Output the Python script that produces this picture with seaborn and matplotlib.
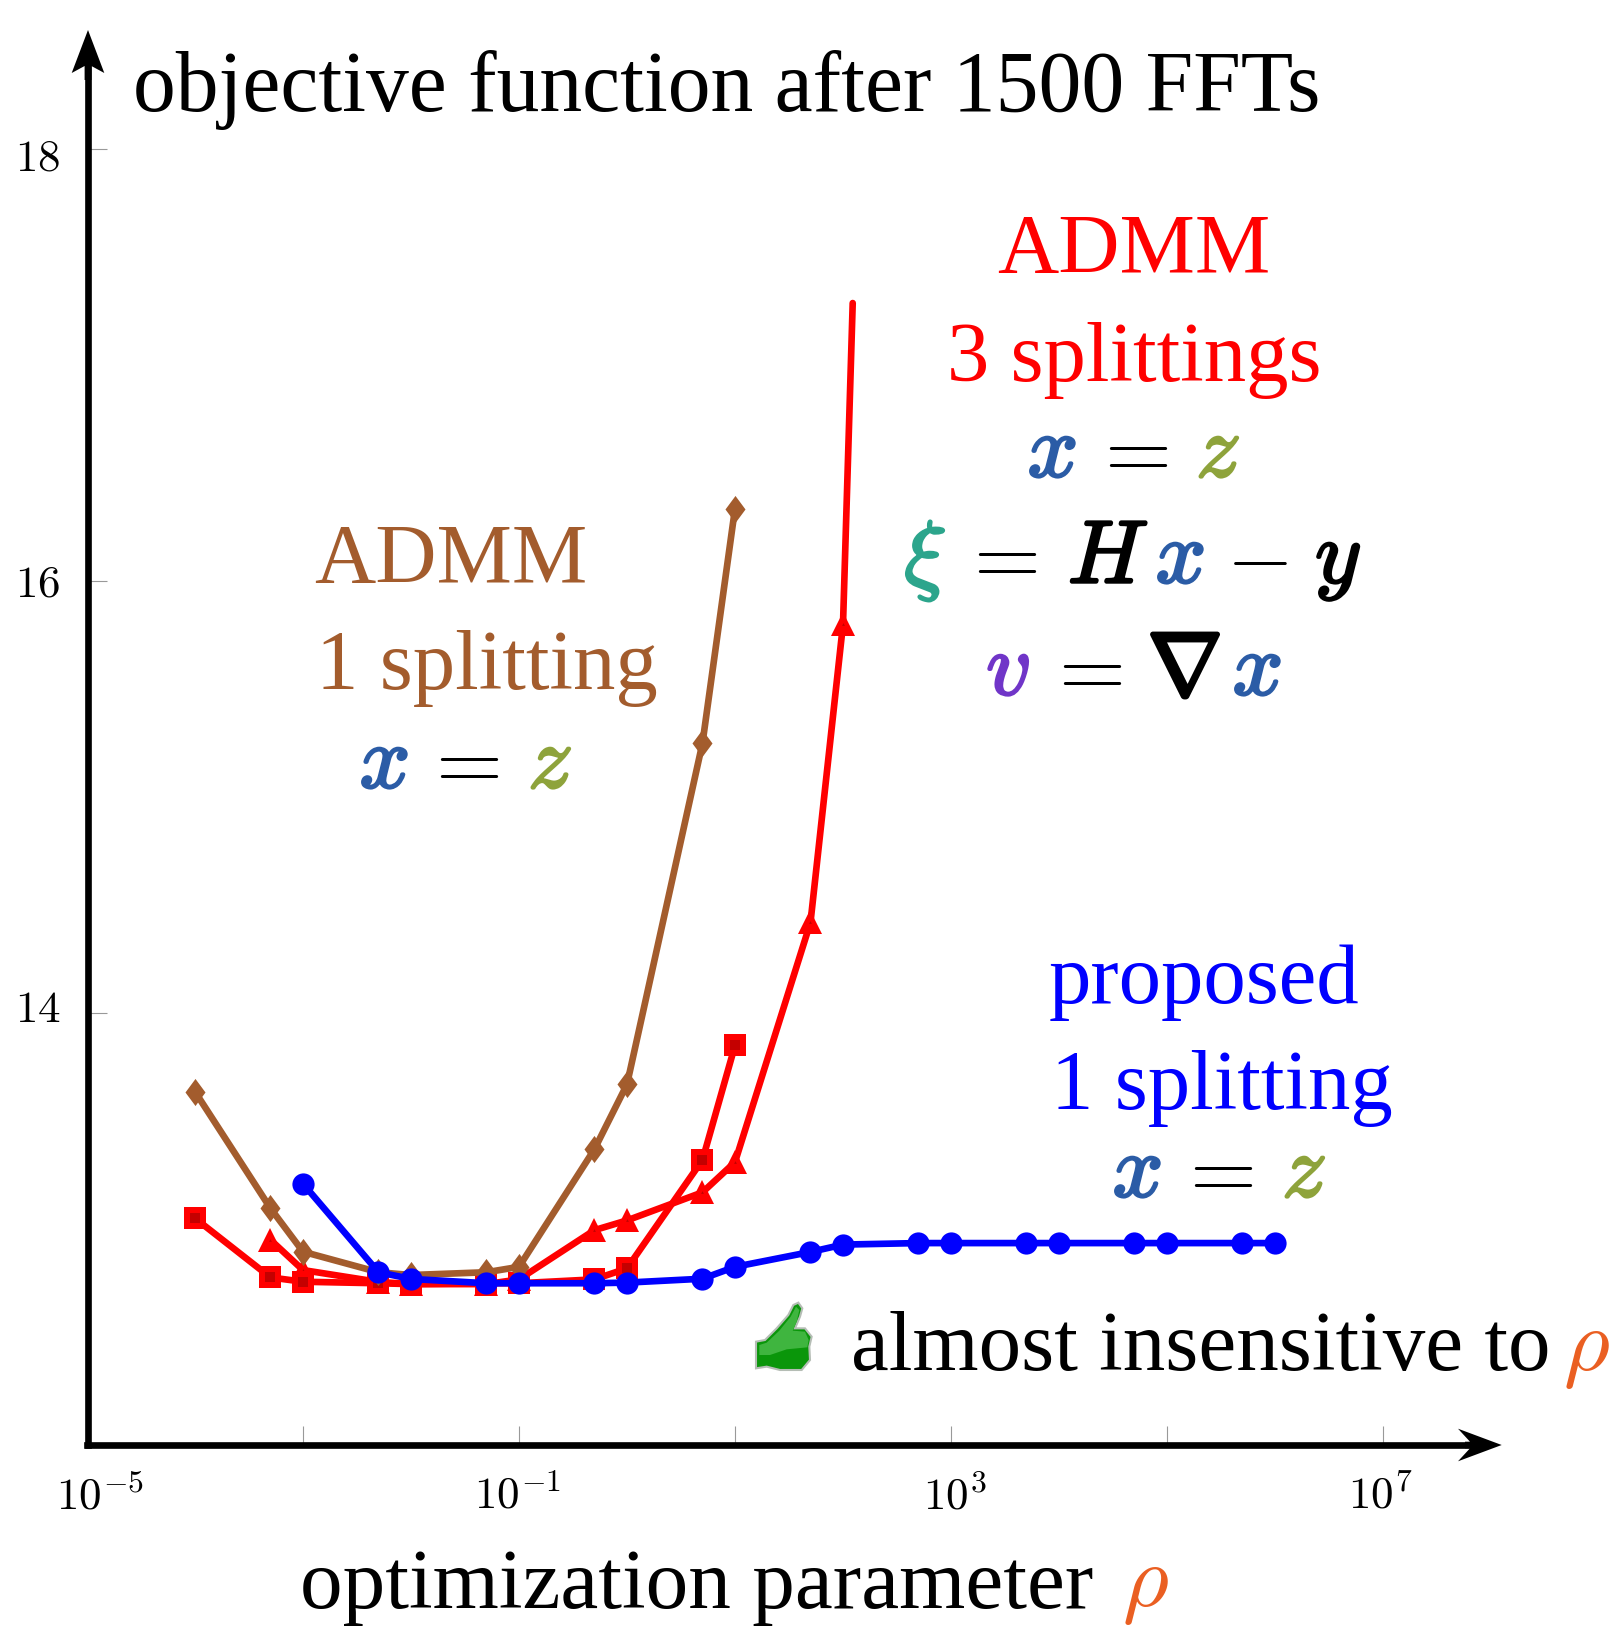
import matplotlib
matplotlib.use('Agg')
import matplotlib.pyplot as plt
import matplotlib.patheffects as pe
from matplotlib.patches import Polygon
from matplotlib.path import Path
from matplotlib.ticker import NullLocator
from matplotlib.transforms import ScaledTranslation
import seaborn as sns
from pandas import DataFrame

sns.set_theme(style='white')
plt.rcParams['font.family'] = ['Liberation Serif', 'DejaVu Sans']
plt.rcParams['mathtext.fontset'] = 'cm'
plt.rcParams['axes.formatter.use_mathtext'] = True

W, H = 1618, 1627

# values
rho_diamond = [1e-4, 5e-4, 1e-3, 5e-3, 1e-2, 5e-2, 1e-1, 5e-1, 1, 5, 10]
obj_diamond = [13.636, 13.096, 12.895, 12.80, 12.787, 12.80, 12.825, 13.37, 13.67, 15.25, 16.336]

rho_square = [1e-4, 5e-4, 1e-3, 5e-3, 1e-2, 5e-2, 1e-1, 5e-1, 1, 5, 10]
obj_square = [13.05, 12.776, 12.756, 12.749, 12.745, 12.749, 12.749, 12.767, 12.818, 13.32, 13.85]

rho_triangle = [5e-4, 1e-3, 5e-3, 1e-2, 5e-2, 1e-1, 5e-1, 1, 5, 10, 50, 100, 123]
obj_triangle = [12.95, 12.81, 12.755, 12.745, 12.745, 12.767, 12.995, 13.04, 13.17, 13.31, 14.42, 15.80, 17.288]

rho_proposed = [1e-3, 5e-3, 1e-2, 5e-2, 1e-1, 5e-1, 1, 5, 10, 50, 100, 500, 1e3, 5e3, 1e4, 5e4, 1e5, 5e5, 1e6]
obj_proposed = [13.21, 12.80, 12.769, 12.749, 12.749, 12.749, 12.752, 12.77, 12.825, 12.894, 12.928,
                12.935, 12.935, 12.935, 12.935, 12.935, 12.935, 12.935, 12.935]

x_ticks = [1e-5, 1e-3, 1e-1, 1e1, 1e3, 1e5, 1e7]
x_labels = ['$10^{-5}$', '', '$10^{-1}$', '', '$10^{3}$', '', '$10^{7}$']
y_ticks = [14, 16, 18]
y_labels = ['$14$', '$16$', '$18$']

RED = '#ff0000'
DARKRED = '#c40000'
BLUE = '#0000ff'
BROWN = '#a35c2d'
XBLUE = '#2b5ca6'
ZGREEN = '#8ea33b'
XITEAL = '#2ca58c'
VPURPLE = '#7035c8'
RHO = '#ea5f22'


def fx(px):
    return px / W


def fy(py):
    return 1 - py / H


fig = plt.figure(figsize=(W / 100, H / 100), dpi=100)
fig.patch.set_facecolor('white')

# axes box in pixels, 108 px per decade, 216 px per objective unit
left, right, top, bottom = 87, 1470, 60, 1445
ax = fig.add_axes([fx(left), fy(bottom), (right - left) / W, (bottom - top) / H])
ax.set_xscale('log')
ax.set_xlim(1e-5, 10 ** (-5 + (right - left) / 108))
ax.set_ylim(12, 18 + (149.3 - top) / 216)
ax.patch.set_alpha(0)

diamond = Path([(0, 1), (0.74, 0), (0, -1), (-0.74, 0), (0, 1)], closed=True)
lw = 4.8

df = DataFrame({'rho': rho_triangle, 'obj': obj_triangle})
sns.lineplot(data=df, x='rho', y='obj', ax=ax, color=RED, lw=lw, marker='^', ms=17, mew=0, solid_joinstyle='miter',
             markevery=list(range(len(rho_triangle) - 1)), errorbar=None, clip_on=False)
sns.lineplot(data=df.iloc[:-1], x='rho', y='obj', ax=ax, color=DARKRED, linestyle='none', marker='^', ms=2, mew=0,
             errorbar=None, clip_on=False)

df = DataFrame({'rho': rho_square, 'obj': obj_square})
sns.lineplot(data=df, x='rho', y='obj', ax=ax, color=RED, lw=lw, marker='s', ms=16, mew=0, errorbar=None, clip_on=False)
sns.lineplot(data=df, x='rho', y='obj', ax=ax, color=DARKRED, linestyle='none', marker='s', ms=7, mew=0,
             errorbar=None, clip_on=False)

df = DataFrame({'rho': rho_diamond, 'obj': obj_diamond})
sns.lineplot(data=df, x='rho', y='obj', ax=ax, color=BROWN, lw=lw, marker=diamond, ms=19.5, mew=0, errorbar=None,
             clip_on=False)

df = DataFrame({'rho': rho_proposed, 'obj': obj_proposed})
sns.lineplot(data=df, x='rho', y='obj', ax=ax, color=BLUE, lw=lw, marker='o', ms=16, mew=0, errorbar=None,
             clip_on=False)

# set_position resets the ticks, so the spines come first
for name in ['top', 'right']:
    ax.spines[name].set_visible(False)
for name in ['left', 'bottom']:
    ax.spines[name].set_linewidth(4.8)
    ax.spines[name].set_color('black')
    ax.spines[name].set_zorder(5)
ax.spines['left'].set_position(('outward', -1))

ax.set_xlabel('')
ax.set_ylabel('')
ax.set_xticks(x_ticks, x_labels)
ax.xaxis.set_minor_locator(NullLocator())
ax.set_yticks(y_ticks, y_labels)
ax.tick_params(axis='both', which='major', direction='in', length=14, width=0.8, color='#999999',
               labelsize=32.5, labelcolor='black', left=True, bottom=True)
ax.tick_params(axis='x', pad=22)
ax.tick_params(axis='y', pad=20)

# the labels sit a little off their ticks in the original
for lab, shift in zip(ax.get_yticklabels(), [7, 0, -6]):
    lab.set_transform(lab.get_transform() + ScaledTranslation(0, shift / 100, fig.dpi_scale_trans))
for lab, shift in zip(ax.get_xticklabels(), [13, 0, -2, 0, 4, 0, -3]):
    lab.set_transform(lab.get_transform() + ScaledTranslation(shift / 100, 0, fig.dpi_scale_trans))


def arrow(pts):
    fig.add_artist(Polygon([(fx(a), fy(b)) for a, b in pts], closed=True, color='black', lw=0,
                           transform=fig.transFigure))


# axis extensions and stealth arrow heads
arrow([(1465, 1441.7), (1470, 1441.7), (1458, 1428.7), (1501.7, 1445), (1458, 1461.3), (1470, 1448.3), (1465, 1448.3)])
arrow([(84.6, 80), (84.6, 66), (71.7, 73), (88, 30), (104.3, 73), (91.4, 66), (91.4, 80)])


def put(s, px, py, size=61, color='black', ha='center', bold=0):
    effects = []
    if bold:
        effects = [pe.Stroke(linewidth=bold, foreground=color), pe.Normal()]
    return fig.text(fx(px), fy(py), s, fontsize=size, color=color, ha=ha, va='baseline', path_effects=effects)


put('objective function after 1500 FFTs', 133, 111, ha='left', size=61.7)
put('optimization parameter', 300, 1608, ha='left', size=61.4)
put(r'$\rho$', 1145, 1606, color=RHO, size=64)
put('almost insensitive to', 851, 1370, ha='left', size=61.2)
put(r'$\rho$', 1586, 1370, color=RHO, size=64)

put('ADMM', 1134, 273, color=RED)
put('3 splittings', 1134, 381, color=RED)
put('ADMM', 451, 583, color=BROWN)
put('1 splitting', 487, 689, color=BROWN)
put('proposed', 1204, 1003, color=BLUE)
put('1 splitting', 1222, 1109, color=BLUE)


def equation(parts, base):
    for sym, px, col, extra in parts:
        put(sym, px, base, color=col, bold=extra, size=64 if extra else 62)


EQ = -9  # mathtext centres the relation signs a bit to the right
equation([('$x$', 1052, XBLUE, 1.9), ('${=}$', 1138 + EQ, 'black', 0), ('$z$', 1218, ZGREEN, 1.9)], 477)
equation([(r'$\xi$', 925, XITEAL, 1.9), ('${=}$', 1007 + EQ, 'black', 0), ('$H$', 1108, 'black', 1.9),
          ('$x$', 1180, XBLUE, 1.9), ('${-}$', 1260 - 3, 'black', 0), ('$y$', 1338, 'black', 1.9)], 583)
equation([('$v$', 1008, VPURPLE, 1.9), ('${=}$', 1092 + EQ, 'black', 0), (r'$\nabla$', 1184, 'black', 3),
          ('$x$', 1257, XBLUE, 1.9)], 695)
equation([('$x$', 384, XBLUE, 1.9), ('${=}$', 469 + EQ, 'black', 0), ('$z$', 550, ZGREEN, 1.9)], 788)
equation([('$x$', 1137, XBLUE, 1.9), ('${=}$', 1223 + EQ, 'black', 0), ('$z$', 1304, ZGREEN, 1.9)], 1197)


# thumbs up icon
def thumb(zpts, fc, ec='none', elw=0):
    fig.add_artist(Polygon([(fx(720 + a / 3), fy(1260 + b / 3)) for a, b in zpts], closed=True, fc=fc, ec=ec, lw=elw,
                           transform=fig.transFigure))


thumb([(108, 245), (135, 240), (170, 205), (205, 165), (220, 135), (235, 128), (247, 145), (240, 170), (225, 205),
       (255, 205), (275, 230), (268, 260), (270, 300), (245, 330), (180, 330), (140, 320), (108, 325)],
      '#0a960a', ec='#b5bdb5', elw=1.5)
thumb([(118, 255), (140, 248), (178, 212), (212, 170), (228, 140), (238, 150), (230, 185), (218, 212), (255, 215),
       (266, 240), (262, 262), (200, 268), (150, 285), (118, 285)], '#3fb53f')

fig.savefig('out.png', dpi=100)
